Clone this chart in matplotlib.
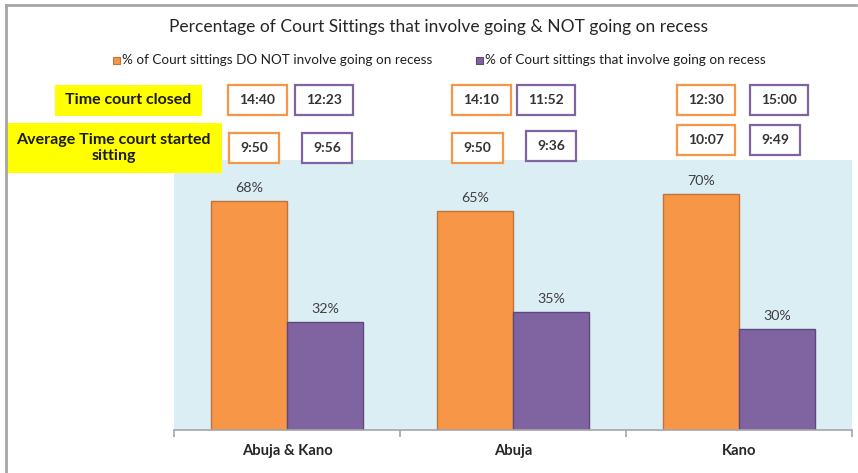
import matplotlib
matplotlib.use("Agg")
import matplotlib.pyplot as plt
from matplotlib.patches import Rectangle
from matplotlib.lines import Line2D
import numpy as np

plt.rcParams['font.family'] = ['Lato', 'DejaVu Sans']

categories = ["Abuja & Kano", "Abuja", "Kano"]
not_recess = [68, 65, 70]
recess = [32, 35, 30]
closed_not_recess = ["14:40", "14:10", "12:30"]
closed_recess = ["12:23", "11:52", "15:00"]
start_not_recess = ["9:50", "9:50", "10:07"]
start_recess = ["9:56", "9:36", "9:49"]

title = "Percentage of Court Sittings that involve going & NOT going on recess"
leg1 = "% of Court sittings DO NOT involve going on recess"
leg2 = "% of Court sittings that involve going on recess"

W, H = 858, 473
ORANGE = "#F79646"
ORANGE_E = "#C0733A"
PURPLE = "#8064A2"
PURPLE_E = "#5E4A7A"
BG = "#DBEEF4"

fig = plt.figure(figsize=(W / 100, H / 100), dpi=100)

def fx(x):
    return x / W

def fy(y):
    return 1 - y / H

# axes in pixel box
L, R, T, B = 174, 852, 160, 430
ax = fig.add_axes([fx(L), fy(B), fx(R) - fx(L), fy(T) - fy(B)])
ax.set_facecolor(BG)
x = np.arange(len(categories))
bw = 0.336
b1 = ax.bar(x - bw / 2, not_recess, bw, color=ORANGE, edgecolor=ORANGE_E, linewidth=1.0)
b2 = ax.bar(x + bw / 2, recess, bw, color=PURPLE, edgecolor=PURPLE_E, linewidth=1.0)
for rects, vals in ((b1, not_recess), (b2, recess)):
    for r, v in zip(rects, vals):
        ax.annotate(f"{v}%", (r.get_x() + r.get_width() / 2, v), xytext=(0, 5),
                    textcoords="offset points", ha="center", va="bottom",
                    fontsize=10.3, color="#404040")
ax.set_xlim(-0.5, 2.5)
ax.set_ylim(0, 80)
ax.set_yticks([])
for s in ("left", "right", "top"):
    ax.spines[s].set_visible(False)
ax.spines["bottom"].set_color("#A6A6A6")
ax.spines["bottom"].set_linewidth(1.2)
ax.set_xticks(x)
ax.set_xticklabels(categories, fontsize=10.6, fontweight="bold", color="#262626")
ax.tick_params(axis="x", which="major", length=0, pad=10)
ax.set_xticks([-0.5, 0.5, 1.5, 2.5], minor=True)
ax.tick_params(axis="x", which="minor", length=5, color="#A6A6A6", width=1.2)

# outer frame
fig.add_artist(Line2D([fx(6), fx(6)], [fy(5), fy(473)], color="#A6A6A6", lw=2))
fig.add_artist(Line2D([fx(6), fx(856)], [fy(5), fy(5)], color="#A6A6A6", lw=2))

# title
fig.text(fx(438), fy(27), title, ha="center", va="center", fontsize=12.5, color="#262626")

# legend
def legend_item(xsq, text, fc, ec):
    fig.add_artist(Rectangle((fx(xsq), fy(64)), fx(7), fy(0) - fy(7),
                             facecolor=fc, edgecolor=ec, lw=0.8))
    fig.text(fx(xsq + 9), fy(60), text, ha="left", va="center", fontsize=9.7, color="#1f1f1f")

legend_item(113, leg1, ORANGE, ORANGE_E)
legend_item(476, leg2, PURPLE, PURPLE_E)

# yellow labels
def yellow(x0, y0, x1, y1, text):
    fig.add_artist(Rectangle((fx(x0), fy(y1)), fx(x1) - fx(x0), fy(y0) - fy(y1),
                             facecolor="#FFFF00", edgecolor="none"))
    fig.text(fx((x0 + x1) / 2), fy((y0 + y1) / 2), text, ha="center", va="center",
             fontsize=11.5, fontweight="bold", color="#1a1a1a", linespacing=1.15)

yellow(55, 85, 202, 116, "Time court closed")
yellow(5, 123, 222, 173, "Average Time court started\nsitting")

# time boxes
def tbox(x0, y0, x1, y1, text, ec):
    fig.add_artist(Rectangle((fx(x0), fy(y1)), fx(x1) - fx(x0), fy(y0) - fy(y1),
                             facecolor="white", edgecolor=ec, lw=1.6))
    fig.text(fx((x0 + x1) / 2), fy((y0 + y1) / 2), text, ha="center", va="center",
             fontsize=10, fontweight="bold", color="#333333")

row1_o = [(228, 287), (452, 511), (677, 735)]
row1_p = [(295, 353), (517, 575), (750, 808)]
row2_o = [(229, 279, 133, 163), (452, 503, 133, 163), (677, 735, 125, 155)]
row2_p = [(302, 352, 133, 163), (526, 576, 131, 161), (750, 800, 125, 155)]
for i in range(len(categories)):
    tbox(row1_o[i][0], 85, row1_o[i][1], 115, closed_not_recess[i], ORANGE)
    tbox(row1_p[i][0], 85, row1_p[i][1], 115, closed_recess[i], PURPLE)
    a, b_, c, d = row2_o[i]
    tbox(a, c, b_, d, start_not_recess[i], ORANGE)
    a, b_, c, d = row2_p[i]
    tbox(a, c, b_, d, start_recess[i], PURPLE)

fig.savefig("out.png", dpi=100)
